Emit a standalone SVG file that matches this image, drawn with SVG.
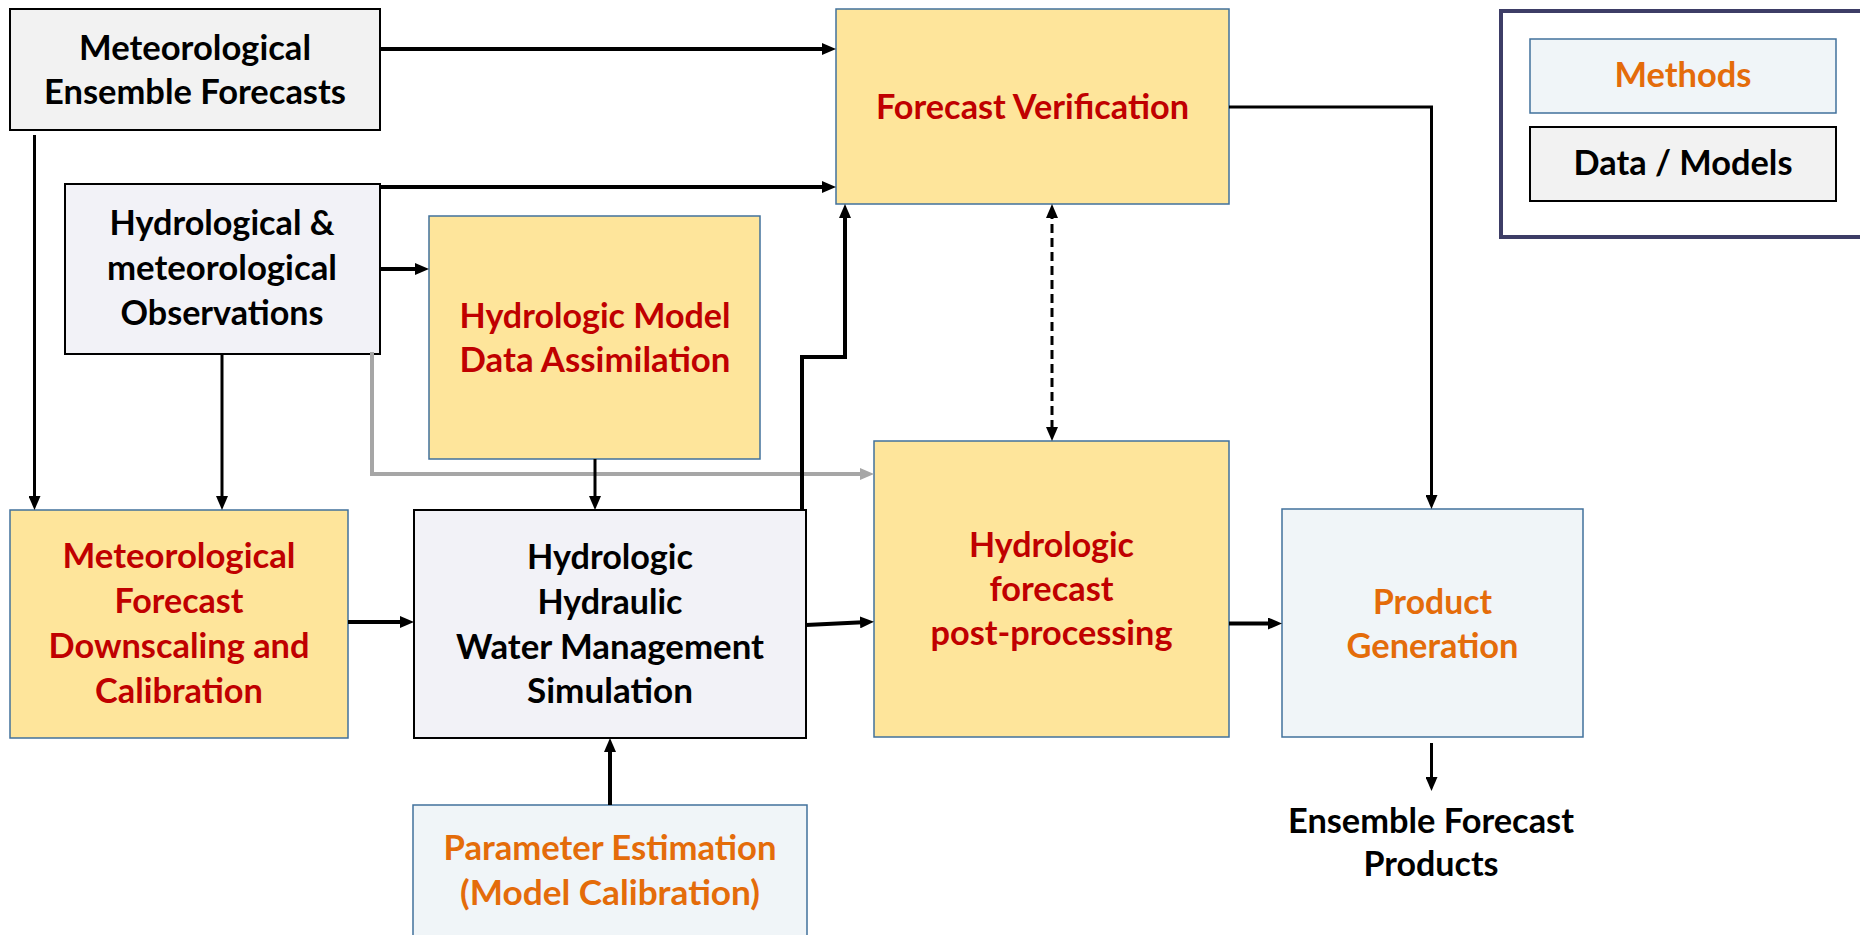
<svg xmlns="http://www.w3.org/2000/svg" width="1860" height="935" viewBox="0 0 1860 935">
<defs>
<marker id="ah" viewBox="0 0 14 12" markerWidth="14" markerHeight="12" refX="8" refY="6" orient="auto-start-reverse" markerUnits="userSpaceOnUse"><path d="M0,0 L14,6 L0,12 z" fill="#000"/></marker>
<marker id="ahg" viewBox="0 0 14 12" markerWidth="14" markerHeight="12" refX="8" refY="6" orient="auto" markerUnits="userSpaceOnUse"><path d="M0,0 L14,6 L0,12 z" fill="#a6a6a6"/></marker>
</defs>
<style>
.data{fill:#f2f2f2;stroke:#000;stroke-width:2}
.dataL{fill:#f2f2f7;stroke:#000;stroke-width:2}
.meth{fill:#fee59b;stroke:#41719c;stroke-width:1.5}
.prod{fill:#f0f5f8;stroke:#41719c;stroke-width:1.5}
text{font-family:Lato,"Liberation Sans",sans-serif;font-weight:700;font-size:34px;text-anchor:middle}
.k{fill:#000}.r{fill:#c00000}.o{fill:#e46c0a}
.c{fill:none;stroke:#000;stroke-width:4;marker-end:url(#ah)}
.t{fill:none;stroke:#000;stroke-width:3;marker-end:url(#ah)}
</style>
<rect x="0" y="0" width="1860" height="935" fill="#fff"/>

<g id="legend">
<rect x="1501" y="11" width="362" height="226" fill="#fff" stroke="#3d3d66" stroke-width="4"/>
<rect x="1530" y="39" width="306" height="74" class="prod"/>
<text x="1683" y="87" class="o" textLength="137" lengthAdjust="spacingAndGlyphs">Methods</text>
<rect x="1530" y="127" width="306" height="74" class="data"/>
<text x="1683" y="175" class="k" textLength="219" lengthAdjust="spacingAndGlyphs">Data / Models</text>
</g>

<g id="met-ensemble">
<rect x="10" y="9" width="370" height="121" class="data"/>
<text x="195" y="60" class="k" textLength="232" lengthAdjust="spacingAndGlyphs">Meteorological</text>
<text x="195" y="104" class="k" textLength="302" lengthAdjust="spacingAndGlyphs">Ensemble Forecasts</text>
</g>

<g id="observations">
<rect x="65" y="184" width="315" height="170" class="dataL"/>
<text x="222" y="235" class="k" textLength="225" lengthAdjust="spacingAndGlyphs">Hydrological &amp;</text>
<text x="222" y="280" class="k" textLength="230" lengthAdjust="spacingAndGlyphs">meteorological</text>
<text x="222" y="325" class="k" textLength="203" lengthAdjust="spacingAndGlyphs">Observations</text>
</g>

<g id="data-assimilation">
<rect x="429" y="216" width="331" height="243" class="meth"/>
<text x="595" y="328" class="r" textLength="271" lengthAdjust="spacingAndGlyphs">Hydrologic Model</text>
<text x="595" y="372" class="r" textLength="271" lengthAdjust="spacingAndGlyphs">Data Assimilation</text>
</g>

<g id="verification">
<rect x="836" y="9" width="393" height="195" class="meth"/>
<text x="1032.5" y="119" class="r" textLength="313" lengthAdjust="spacingAndGlyphs">Forecast Verification</text>
</g>

<g id="downscaling">
<rect x="10" y="510" width="338" height="228" class="meth"/>
<text x="179" y="568" class="r" textLength="233" lengthAdjust="spacingAndGlyphs">Meteorological</text>
<text x="179" y="613" class="r" textLength="129" lengthAdjust="spacingAndGlyphs">Forecast</text>
<text x="179" y="658" class="r" textLength="261" lengthAdjust="spacingAndGlyphs">Downscaling and</text>
<text x="179" y="703" class="r" textLength="168" lengthAdjust="spacingAndGlyphs">Calibration</text>
</g>

<g id="simulation">
<rect x="414" y="510" width="392" height="228" class="dataL"/>
<text x="610" y="569" class="k" textLength="166" lengthAdjust="spacingAndGlyphs">Hydrologic</text>
<text x="610" y="614" class="k" textLength="145" lengthAdjust="spacingAndGlyphs">Hydraulic</text>
<text x="610" y="659" class="k" textLength="308" lengthAdjust="spacingAndGlyphs">Water Management</text>
<text x="610" y="703" class="k" textLength="166" lengthAdjust="spacingAndGlyphs">Simulation</text>
</g>

<g id="post-processing">
<rect x="874" y="441" width="355" height="296" class="meth"/>
<text x="1051.5" y="557" class="r" textLength="165" lengthAdjust="spacingAndGlyphs">Hydrologic</text>
<text x="1051.5" y="601" class="r" textLength="124" lengthAdjust="spacingAndGlyphs">forecast</text>
<text x="1051.5" y="645" class="r" textLength="242" lengthAdjust="spacingAndGlyphs">post-processing</text>
</g>

<g id="product-generation">
<rect x="1282" y="509" width="301" height="228" class="prod"/>
<text x="1432.5" y="614" class="o" textLength="119" lengthAdjust="spacingAndGlyphs">Product</text>
<text x="1432.5" y="658" class="o" textLength="172" lengthAdjust="spacingAndGlyphs">Generation</text>
</g>

<g id="parameter-estimation">
<rect x="413" y="805" width="394" height="140" class="prod"/>
<text x="610" y="860" class="o" textLength="333" lengthAdjust="spacingAndGlyphs">Parameter Estimation</text>
<text x="610" y="905" class="o" textLength="300" lengthAdjust="spacingAndGlyphs">(Model Calibration)</text>
</g>

<g id="products">
<text x="1431" y="833" class="k" textLength="286" lengthAdjust="spacingAndGlyphs">Ensemble Forecast</text>
<text x="1431" y="876" class="k" textLength="135" lengthAdjust="spacingAndGlyphs">Products</text>
</g>

<g id="connectors">
<path class="c" d="M380 49 H830"/>
<path class="c" d="M380 187 H830"/>
<path class="c" d="M380 269 H423"/>
<path class="t" d="M34.5 135 V504"/>
<path class="t" d="M222 354 V504"/>
<path d="M372 352 V474 H868" fill="none" stroke="#a6a6a6" stroke-width="4" marker-end="url(#ahg)"/>
<path class="t" d="M595 459 V504"/>
<path class="c" d="M802 510 V357 H845 V210"/>
<path d="M1052 210 V435" fill="none" stroke="#000" stroke-width="3" stroke-dasharray="9 5" marker-start="url(#ah)" marker-end="url(#ah)"/>
<path class="t" d="M1229 107 H1431.5 V503"/>
<path class="c" d="M348 622 H408"/>
<path class="c" d="M806 625 L868 622"/>
<path class="c" d="M1229 623.5 H1276"/>
<path class="c" d="M610 805 V744"/>
<path class="t" d="M1431.5 743 V785"/>
</g>
</svg>
